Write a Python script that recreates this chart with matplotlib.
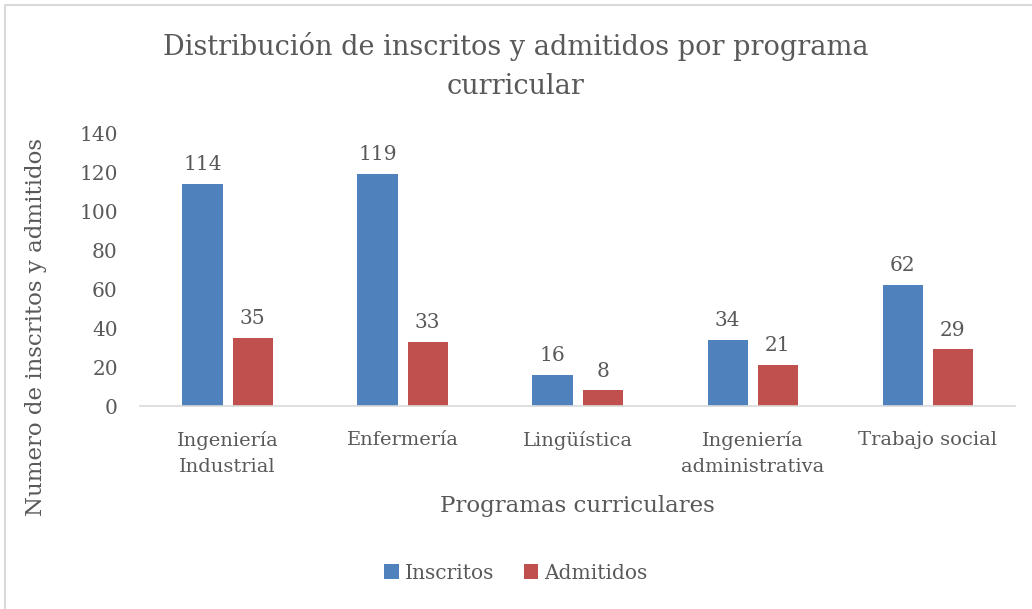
import matplotlib.pyplot as plt
import matplotlib.lines as lin
import numpy as np

programas = ['Ingeniería\nIndustrial', 'Enfermería', 'Lingüística',
             'Ingeniería\nadministrativa', 'Trabajo social']
inscritos = [114, 119, 16, 34, 62]
admitidos = [35, 33, 8, 21, 29]

gris = '#595959'
azul = '#4F81BD'
rojo = '#C0504D'

plt.rcParams['font.family'] = ['DejaVu Serif']
plt.rcParams['text.color'] = gris

fig = plt.figure(figsize=(10.32, 6.09), dpi=100)
ax = fig.add_axes([0.1357, 0.3333, 0.8479, 0.4483])

x = np.arange(len(programas))
ancho = 0.229
b1 = ax.bar(x - 0.143, inscritos, ancho, color=azul, label='Inscritos')
b2 = ax.bar(x + 0.143, admitidos, ancho, color=rojo, label='Admitidos')

for barras in (b1, b2):
    for b in barras:
        ax.annotate(str(int(b.get_height())), (b.get_x() + b.get_width() / 2, b.get_height()),
                    xytext=(0, 7), textcoords='offset points', ha='center', va='bottom',
                    fontsize=14.5, color=gris)

ax.set_xlim(-0.5, 4.5)
ax.set_ylim(0, 140)
ax.set_yticks(range(0, 141, 20))
ax.set_xticks(x)
ax.set_xticklabels(programas, fontsize=14, color=gris, linespacing=1.55)
ax.tick_params(axis='y', labelsize=14.5, labelcolor=gris, length=0, pad=16)
ax.tick_params(axis='x', length=0, pad=18)
for s in ['top', 'right', 'left']:
    ax.spines[s].set_visible(False)
ax.spines['bottom'].set_color('#D9D9D9')
ax.spines['bottom'].set_linewidth(1.2)

ax.set_ylabel('Numero de inscritos y admitidos', fontsize=16.5, color=gris)
ax.yaxis.set_label_coords(-0.106, 0.29)
ax.set_xlabel('Programas curriculares', fontsize=16.5, color=gris, labelpad=14)
fig.text(0.5, 0.892, 'Distribución de inscritos y admitidos por programa\ncurricular',
         ha='center', va='center', fontsize=19.5, color=gris, linespacing=1.55)

fig.legend(handles=[b1, b2], loc='center', bbox_to_anchor=(0.5, 0.059), ncol=2,
           frameon=False, fontsize=14.5, handlelength=0.7, handleheight=0.7,
           handletextpad=0.3, columnspacing=1.5)

fig.add_artist(lin.Line2D([0.005, 0.005, 1], [0, 0.991, 0.991], color='#D9D9D9', lw=1.5,
                          transform=fig.transFigure))

plt.savefig('out.png', dpi=100)
